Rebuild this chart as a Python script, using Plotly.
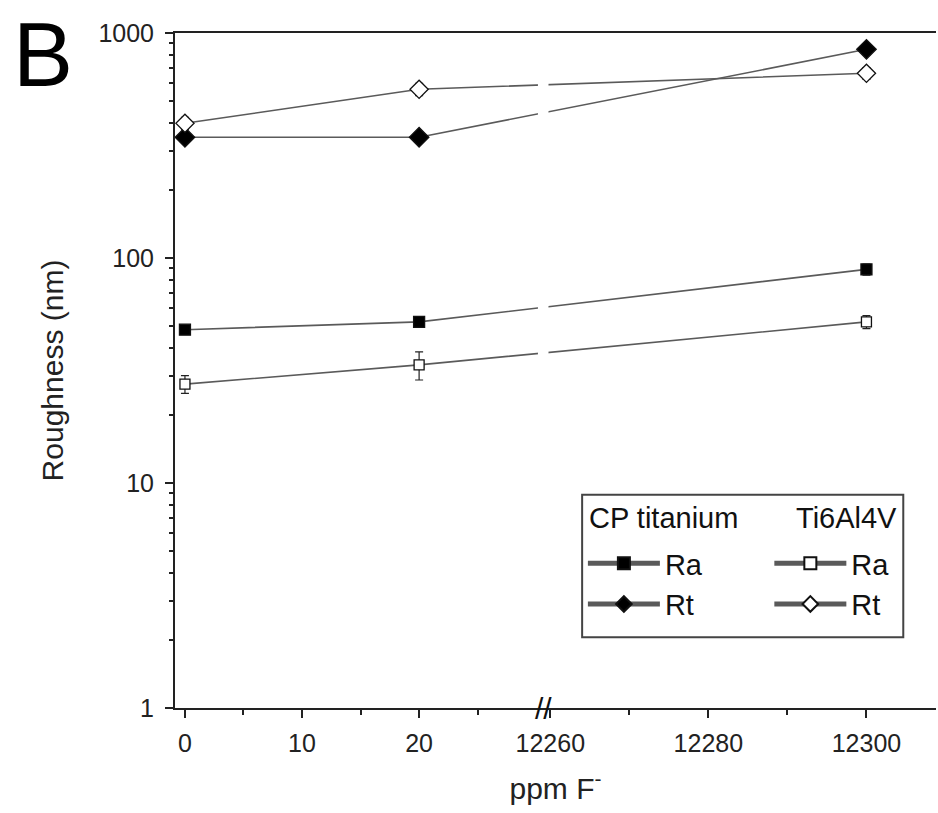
import plotly.graph_objects as go

# Fluoride concentration (ppm F-) and surface roughness (nm)
ppm = [0, 20, 12300]

cp_ra = [48, 52, 89]
cp_ra_err = [2, 2, 5]
cp_rt = [344, 344, 846]
cp_rt_err = [15, 12, 45]

ti_ra = [27.5, 33.5, 52]
ti_ra_err = [2.5, 4.8, 3.5]
ti_rt = [397, 562, 662]
ti_rt_err = [25, 35, 40]

x_major = [0, 10, 20, 12260, 12280, 12300]
x_minor = [5, 15, 25, 12270, 12290]
y_major = [1, 10, 100, 1000]
y_minor = [m * d for d in (1, 10, 100) for m in range(2, 10)]

# Broken x axis: low segment (0..30.6 ppm) and high segment (from 12259.1 ppm),
# the high segment compressed relative to the low one.
LOW_END = 30.6
HIGH_START = 12259.1
HIGH_SCALE = 0.675


def xpos(v):
    if v <= LOW_END:
        return v
    return LOW_END + (v - HIGH_START) * HIGH_SCALE


def xs(vals):
    return [xpos(v) for v in vals]


FONT = "Liberation Sans, Arial, sans-serif"
LINE_COLOR = "#5a5a5a"

fig = go.Figure()


def add_series(y, err, name, symbol, size, fill, legend):
    fig.add_trace(go.Scatter(
        x=xs(ppm), y=y, name=name, mode="lines+markers",
        line=dict(color=LINE_COLOR, width=1.6),
        marker=dict(symbol=symbol, size=size, color=fill,
                    line=dict(color="#111", width=1.3)),
        error_y=dict(type="data", array=err, visible=True,
                     color="#222", thickness=1.2, width=4),
        legend=legend,
    ))


add_series(cp_ra, cp_ra_err, "Ra", "square", 11, "#000", "legend")
add_series(cp_rt, cp_rt_err, "Rt", "diamond", 15, "#000", "legend")
add_series(ti_ra, ti_ra_err, "Ra", "square", 10, "#fff", "legend2")
add_series(ti_rt, ti_rt_err, "Rt", "diamond", 14, "#fff", "legend2")

# white strip interrupting the connecting lines at the axis break
fig.add_shape(type="rect", xref="x", yref="paper",
              x0=LOW_END - 0.45, x1=LOW_END + 0.45, y0=0.015, y1=0.985,
              fillcolor="white", line=dict(width=0), layer="above")

# break marks on the x axis
fig.add_annotation(x=LOW_END, y=0, xref="x", yref="paper", text="//",
                   showarrow=False, font=dict(family=FONT, size=30, color="#111"),
                   xanchor="center", yanchor="middle")

# panel letter
fig.add_annotation(x=-0.215, y=1.045, xref="paper", yref="paper", text="B",
                   showarrow=False, font=dict(family=FONT, size=90, color="#000"),
                   xanchor="left", yanchor="top")

# frame around the two legend columns, with the column headers
fig.add_shape(type="rect", xref="paper", yref="paper",
              x0=0.535, x1=0.957, y0=0.105, y1=0.316,
              line=dict(color="#444", width=2), fillcolor="rgba(0,0,0,0)")
fig.add_annotation(x=0.541, y=0.282, xref="paper", yref="paper",
                   text="CP titanium", showarrow=False,
                   font=dict(family=FONT, size=29, color="#111"),
                   xanchor="left", yanchor="middle")
fig.add_annotation(x=0.951, y=0.282, xref="paper", yref="paper",
                   text="Ti6Al4V", showarrow=False,
                   font=dict(family=FONT, size=29, color="#111"),
                   xanchor="right", yanchor="middle")

legend_common = dict(
    bgcolor="rgba(0,0,0,0)", borderwidth=0,
    font=dict(family=FONT, size=29, color="#111"),
    xanchor="left", yanchor="top", itemsizing="constant",
    itemwidth=72, tracegroupgap=0,
)

fig.update_layout(
    width=938, height=813,
    margin=dict(l=175, r=2, t=33, b=105),
    paper_bgcolor="white", plot_bgcolor="white",
    font=dict(family=FONT, color="#111"),
    showlegend=True,
    legend=dict(**legend_common, x=0.536, y=0.252),
    legend2=dict(**legend_common, x=0.781, y=0.252),
    xaxis=dict(
        range=[-0.85, xpos(12308.8)],
        tickmode="array", tickvals=xs(x_major),
        ticktext=[str(v) for v in x_major],
        ticks="outside", ticklen=8, tickwidth=2, tickcolor="#222",
        minor=dict(tickmode="array", tickvals=xs(x_minor),
                   ticks="outside", ticklen=5, tickwidth=2, tickcolor="#222"),
        showline=True, linecolor="#222", linewidth=2, mirror=True,
        showgrid=False, zeroline=False,
        tickfont=dict(family=FONT, size=25, color="#222"),
        ticklabelstandoff=4,
        title=dict(text="ppm F<sup>-</sup>", standoff=22,
                   font=dict(family=FONT, size=30, color="#222")),
    ),
    yaxis=dict(
        type="log", range=[0, 3],
        tickmode="array", tickvals=y_major,
        ticktext=[str(v) for v in y_major],
        ticks="outside", ticklen=8, tickwidth=2, tickcolor="#222",
        minor=dict(tickmode="array", tickvals=y_minor,
                   ticks="outside", ticklen=4, tickwidth=2, tickcolor="#222"),
        showline=True, linecolor="#222", linewidth=2, mirror=False,
        showgrid=False, zeroline=False,
        tickfont=dict(family=FONT, size=25, color="#222"),
        ticklabelstandoff=6,
        title=dict(text="Roughness (nm)", standoff=26,
                   font=dict(family=FONT, size=30, color="#222")),
    ),
)

fig.write_html("out.html")
